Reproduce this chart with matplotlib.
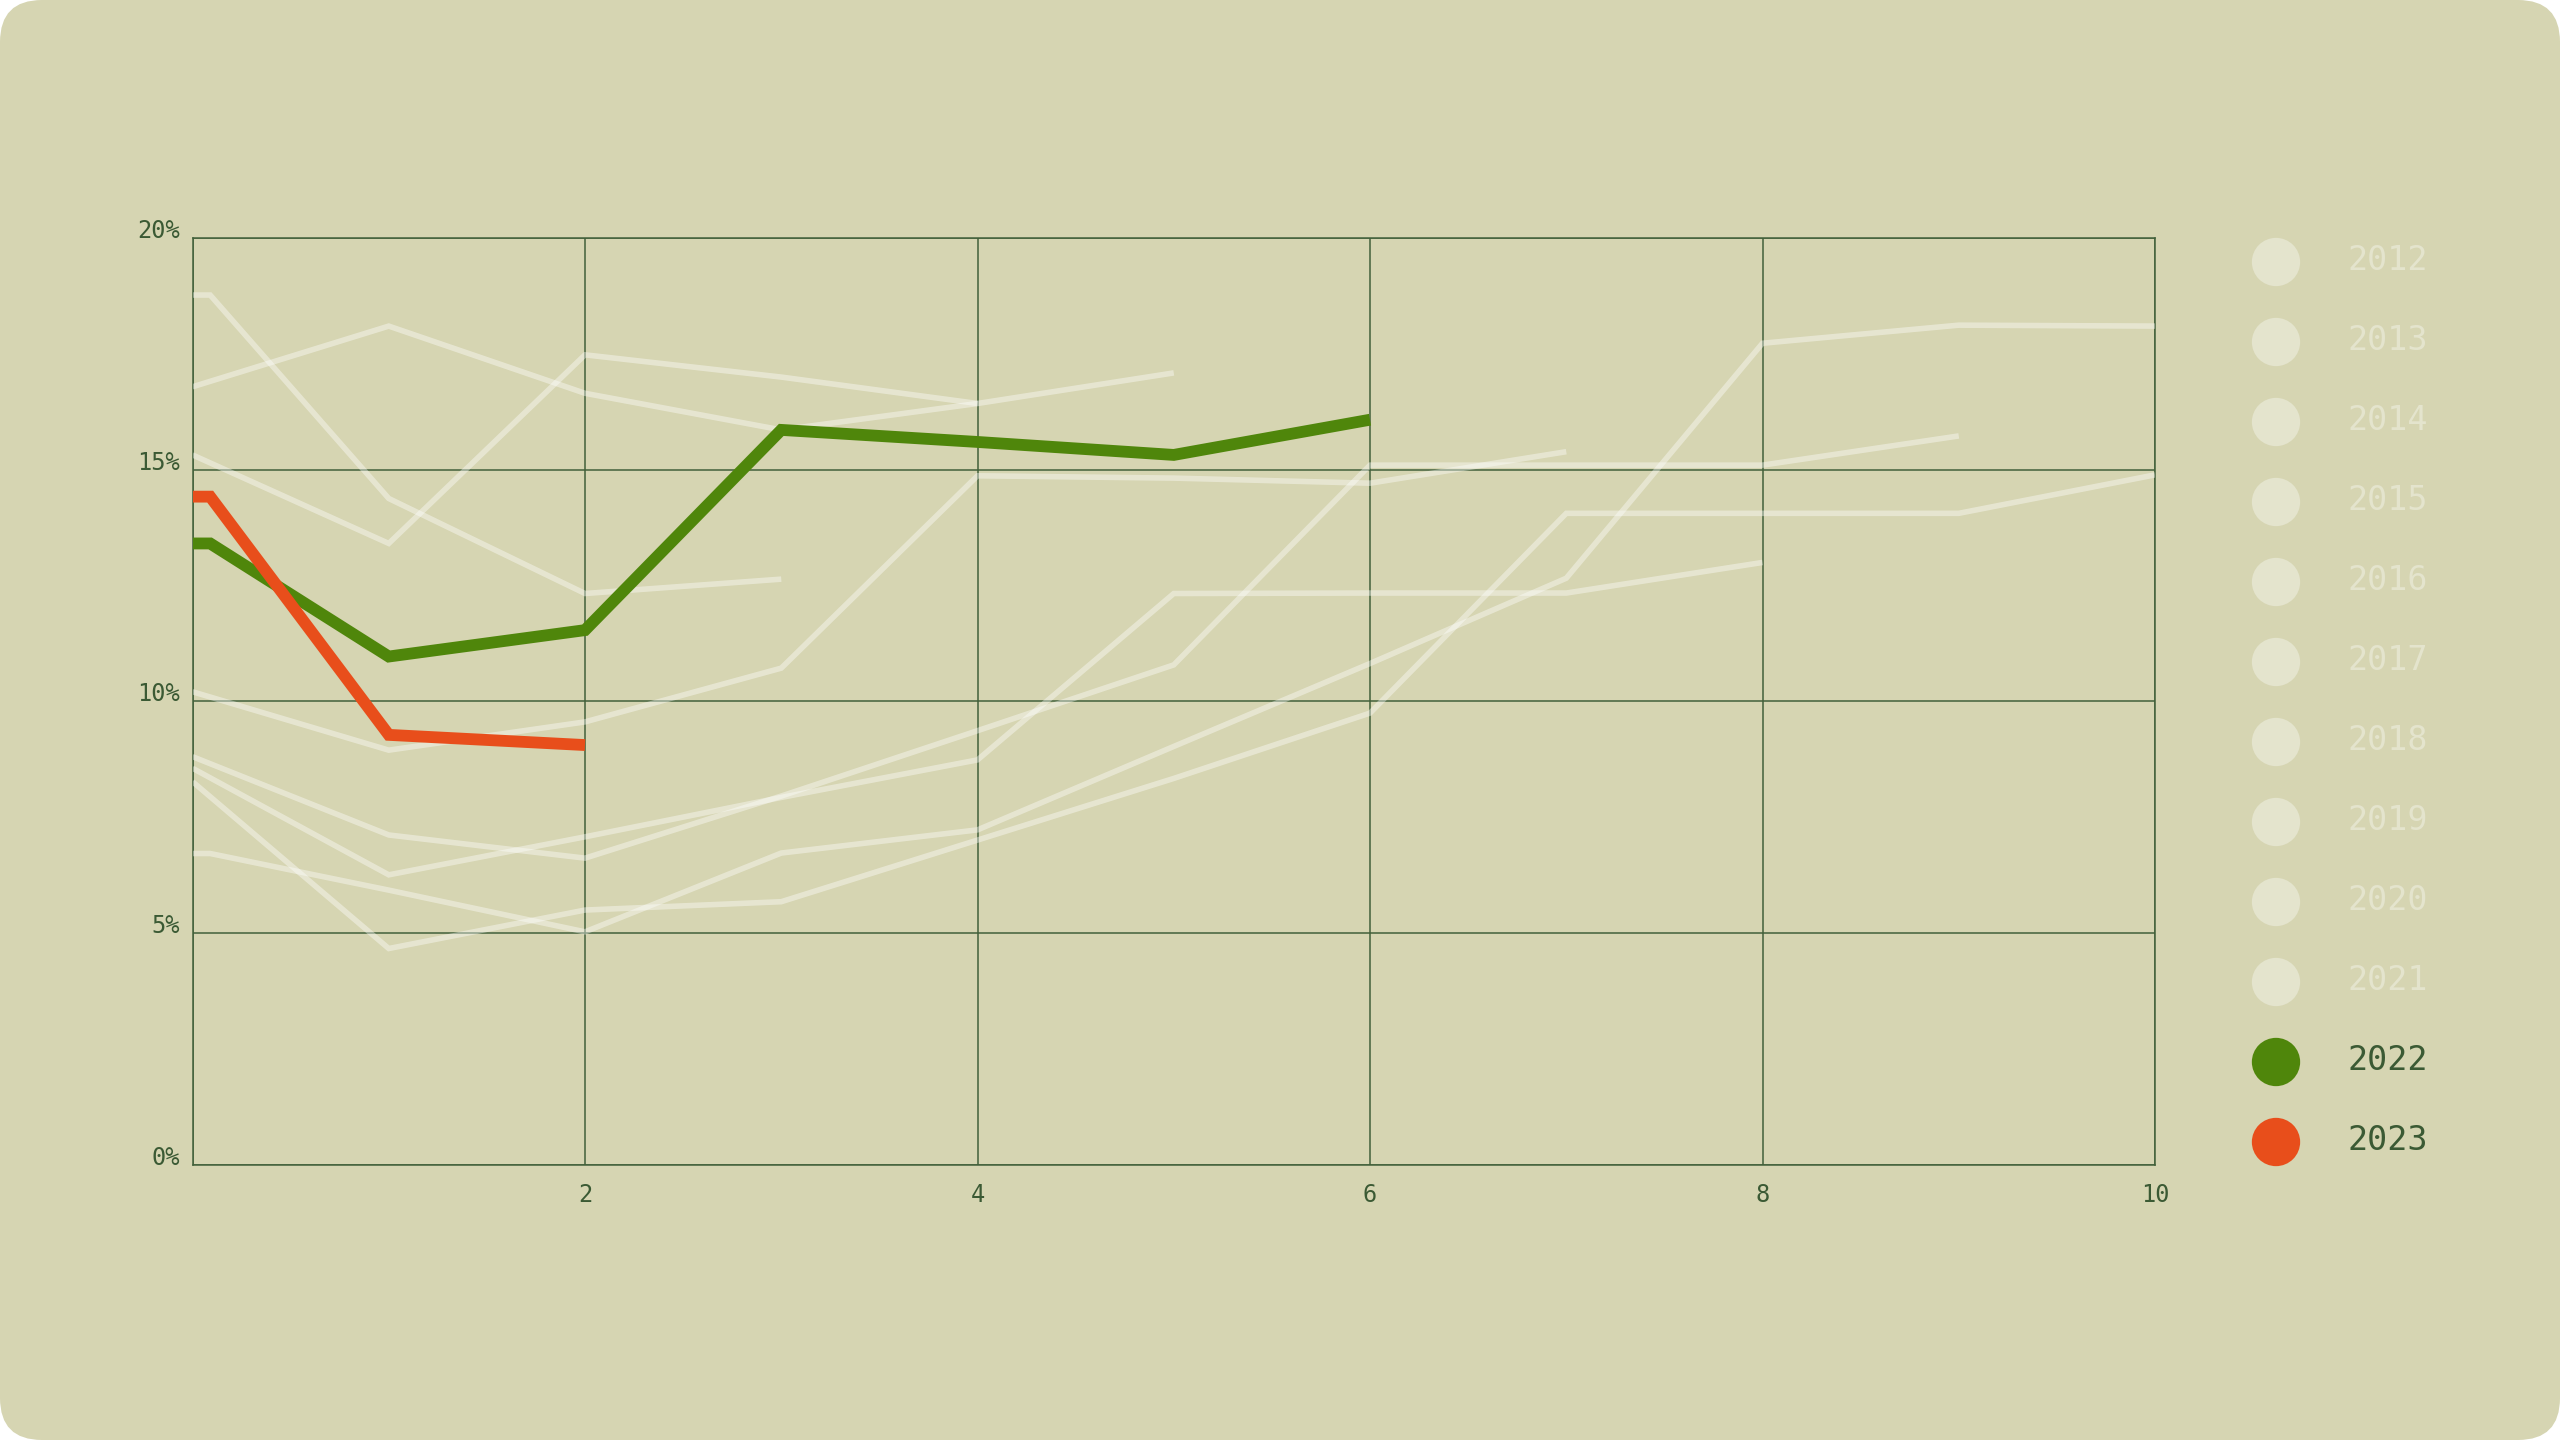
import matplotlib
matplotlib.use("Agg")
import matplotlib.pyplot as plt
from matplotlib.patches import FancyBboxPatch

# --- DATA ---
X_POS = [0, 1, 2, 3, 4, 5, 6, 7, 8, 9, 10]
STUB = 0.09  # short flat start seen on some lines

YEARS = ['2012', '2013', '2014', '2015', '2016', '2017',
         '2018', '2019', '2020', '2021', '2022', '2023']

V_2012 = [6.72, 5.93, 5.03, 6.73, 7.23, 9.03, 10.82, 12.66, 17.73, 18.12, 18.10]
V_2013 = [8.27, 4.67, 5.50, 5.68, 7.01, 8.34, 9.75, 14.06, 14.06, 14.06, 14.89]
V_2014 = [8.81, 7.12, 6.62, 7.96, 9.37, 10.79, 15.10, 15.10, 15.10, 15.73]
V_2015 = [8.56, 6.26, 7.08, 7.93, 8.74, 12.33, 12.34, 12.34, 13.00]
V_2016 = [10.21, 8.95, 9.56, 10.72, 14.87, 14.82, 14.71, 15.39]
V_2017 = [16.79, 18.10, 16.65, 15.86, 16.43, 17.09]
V_2018 = [15.32, 13.41, 17.48, 17.00, 16.43]
V_2019 = [18.77, 14.38, 12.33, 12.64]
V_2020 = []
V_2021 = []
V_2022 = [13.41, 10.97, 11.54, 15.86, 15.60, 15.32, 16.08]
V_2023 = [14.42, 9.28, 9.06]

VALUES = [V_2012, V_2013, V_2014, V_2015, V_2016, V_2017,
          V_2018, V_2019, V_2020, V_2021, V_2022, V_2023]
FLAT_START = {'2012', '2019', '2022', '2023'}

Y_TICKS = [0, 5, 10, 15, 20]
Y_LABELS = ['0%', '5%', '10%', '15%', '20%']
X_TICKS = [0, 2, 4, 6, 8, 10]
X_LABELS = ['', '2', '4', '6', '8', '10']

# --- STYLE ---
BG = '#d6d5b2'
GRID = '#42603a'
TEXT = '#3b5a34'
FADED = '#e4e4cd'
HIGHLIGHT = {'2022': '#4f860b', '2023': '#e84e1b'}
FONT = 'DejaVu Sans Mono'

fig = plt.figure(figsize=(25.6, 14.4), dpi=100)
fig.patch.set_facecolor('white')
fig.add_artist(FancyBboxPatch((0, 0), 25.6, 14.4,
                              boxstyle='round,pad=0,rounding_size=0.42',
                              transform=fig.dpi_scale_trans,
                              facecolor=BG, edgecolor='none', zorder=-10))

ax = fig.add_axes([0.0752, 0.1910, 0.7666, 0.6437])
ax.set_facecolor('none')

for year, vals in zip(YEARS, VALUES):
    if not vals:
        continue
    xs = list(X_POS[:len(vals)])
    ys = list(vals)
    if year in FLAT_START:
        xs = [0, STUB] + xs[1:]
        ys = [ys[0]] + ys
    if year in HIGHLIGHT:
        ax.plot(xs, ys, color=HIGHLIGHT[year], linewidth=8.5,
                solid_capstyle='butt', solid_joinstyle='miter', zorder=5)
    else:
        ax.plot(xs, ys, color='white', alpha=0.4, linewidth=4.0,
                solid_capstyle='butt', solid_joinstyle='miter', zorder=3)

ax.set_xlim(0, 10)
ax.set_ylim(0, 20)
ax.set_xticks(X_TICKS)
ax.set_xticklabels(X_LABELS)
ax.set_yticks(Y_TICKS)
ax.set_yticklabels(Y_LABELS)
ax.grid(True, color=GRID, linewidth=1.1, zorder=1)
ax.set_axisbelow(True)
for sp in ax.spines.values():
    sp.set_color(GRID)
    sp.set_linewidth(1.1)
ax.tick_params(length=0, labelsize=17, labelcolor=TEXT)
ax.tick_params(axis='y', pad=9)
ax.tick_params(axis='x', pad=13)
for lab in ax.get_xticklabels() + ax.get_yticklabels():
    lab.set_family(FONT)
for lab in ax.get_yticklabels():
    lab.set_verticalalignment('baseline')

# --- LEGEND (custom, pixel coordinates) ---
leg = fig.add_axes([0, 0, 1, 1], facecolor='none')
leg.set_xlim(0, 2560)
leg.set_ylim(1440, 0)
leg.axis('off')
for i, year in enumerate(YEARS):
    y = 262 + 80 * i
    col = HIGHLIGHT.get(year, FADED)
    leg.scatter([2276], [y], s=1210, color=col, edgecolors='none')
    leg.text(2347, y - 2, year, fontsize=24, family=FONT,
             color=TEXT if year in HIGHLIGHT else FADED,
             ha='left', va='center')

fig.savefig('out.png', dpi=100, facecolor=fig.get_facecolor())
